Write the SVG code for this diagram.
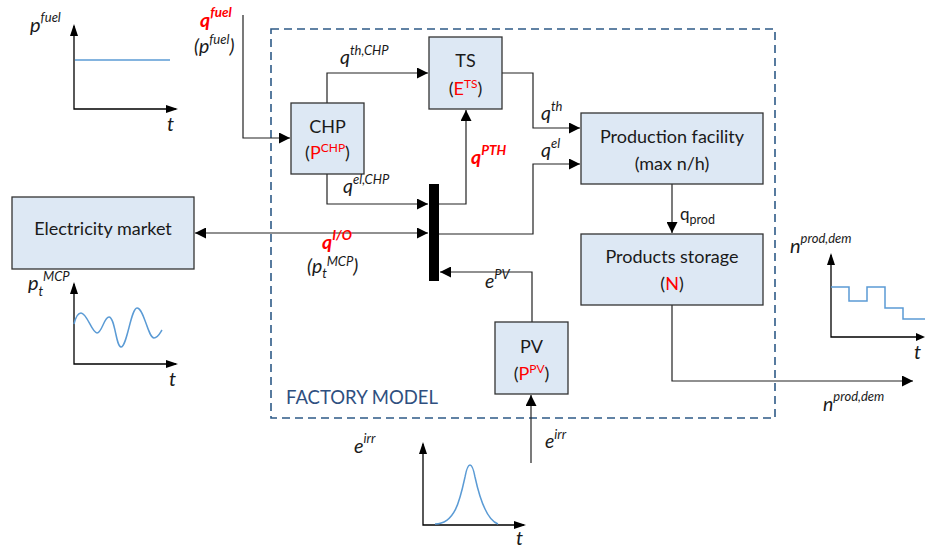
<svg xmlns="http://www.w3.org/2000/svg" width="925" height="549" viewBox="0 0 925 549">
<style>
text{font-family:Lato,"Liberation Sans",sans-serif;fill:#1a1a1a}
.box{fill:#dde8f4;stroke:#333;stroke-width:1.3}
.bt{font-size:18px;text-anchor:middle}
.red{fill:#ff0000}
.lbl{font-size:19.5px;font-style:italic}
.sup{font-size:13px}
.rb{fill:#ff0000;font-weight:bold;font-style:italic;font-size:19.5px}
.ln{fill:none;stroke:#222;stroke-width:1.2}
.ax{fill:none;stroke:#000;stroke-width:1.3}
.cv{fill:none;stroke:#5b9bd5;stroke-width:1.5}
</style>
<defs>
<marker id="ah" viewBox="0 0 10 10" refX="10" refY="5" markerWidth="13" markerHeight="11" orient="auto-start-reverse" markerUnits="userSpaceOnUse"><path d="M0,0 L10,5 L0,10 z" fill="#000"/></marker>
</defs>

<rect x="271" y="29" width="504" height="389" fill="none" stroke="#2e5a87" stroke-width="1.6" stroke-dasharray="8,5"/>
<text x="286" y="404" style="font-size:18.5px;fill:#2f4f7f">FACTORY MODEL</text>

<g id="connectors">
<polyline class="ln" points="243,15 243,138 290,138" marker-end="url(#ah)"/>
<polyline class="ln" points="327,103 327,73 428,73" marker-end="url(#ah)"/>
<polyline class="ln" points="502,73 533,73 533,128 580,128" marker-end="url(#ah)"/>
<polyline class="ln" points="439,234 533,234 533,164 580,164" marker-end="url(#ah)"/>
<polyline class="ln" points="327,174 327,204 428,204" marker-end="url(#ah)"/>
<polyline class="ln" points="439,204 466,204 466,110" marker-end="url(#ah)"/>
<line class="ln" x1="195" y1="233" x2="428" y2="233" marker-start="url(#ah)" marker-end="url(#ah)"/>
<polyline class="ln" points="532,322 532,272 440,272" marker-end="url(#ah)"/>
<line class="ln" x1="531" y1="463" x2="531" y2="395" stroke="#555" marker-end="url(#ah)"/>
<line class="ln" x1="672" y1="184" x2="672" y2="233" stroke="#555" marker-end="url(#ah)"/>
<polyline class="ln" points="672,305 672,381 913,381" stroke="#555" marker-end="url(#ah)"/>
</g>

<g id="bus"><rect x="429" y="184" width="10" height="97" fill="#000"/></g>

<g id="chp">
<rect class="box" x="291" y="103" width="73" height="71"/>
<text class="bt" x="327.5" y="133">CHP</text>
<text class="bt" x="327.5" y="159">(<tspan class="red">P</tspan><tspan class="red" font-size="12" dy="-7">CHP</tspan><tspan dy="7">)</tspan></text>
</g>
<g id="ts">
<rect class="box" x="429" y="37" width="73" height="72"/>
<text class="bt" x="465.5" y="67">TS</text>
<text class="bt" x="465.5" y="95">(<tspan class="red">E</tspan><tspan class="red" font-size="12" dy="-7">TS</tspan><tspan dy="7">)</tspan></text>
</g>
<g id="production">
<rect class="box" x="581" y="113" width="182" height="71"/>
<text class="bt" x="672" y="143">Production facility</text>
<text class="bt" x="672" y="170">(max n/h)</text>
</g>
<g id="storage">
<rect class="box" x="581" y="234" width="182" height="71"/>
<text class="bt" x="672" y="263">Products storage</text>
<text class="bt" x="672" y="290">(<tspan class="red">N</tspan>)</text>
</g>
<g id="market">
<rect class="box" x="12" y="197" width="182" height="72"/>
<text class="bt" x="103" y="235">Electricity market</text>
</g>
<g id="pv">
<rect class="box" x="495" y="322" width="73" height="72"/>
<text class="bt" x="531.5" y="353">PV</text>
<text class="bt" x="531.5" y="380">(<tspan class="red">P</tspan><tspan class="red" font-size="12" dy="-7">PV</tspan><tspan dy="7">)</tspan></text>
</g>

<g id="labels">
<text class="rb" x="200" y="27">q<tspan font-size="13.5" dy="-10">fuel</tspan></text>
<text class="lbl" x="194" y="53">(p<tspan class="sup" dy="-9">fuel</tspan><tspan dy="9">)</tspan></text>
<text class="lbl" x="340" y="64">q<tspan class="sup" dy="-9">th,CHP</tspan></text>
<text class="lbl" x="541" y="120">q<tspan class="sup" dy="-9">th</tspan></text>
<text class="lbl" x="541" y="157">q<tspan class="sup" dy="-9">el</tspan></text>
<text class="rb" x="471" y="164">q<tspan font-size="13.5" dy="-9">PTH</tspan></text>
<text class="lbl" x="343" y="193">q<tspan class="sup" dy="-9">el,CHP</tspan></text>
<text class="rb" x="322" y="249">q<tspan font-size="13.5" dy="-9">I/O</tspan></text>
<text class="lbl" x="307" y="273">(p<tspan class="sup" dy="5">t</tspan><tspan class="sup" dy="-12">MCP</tspan><tspan dy="7">)</tspan></text>
<text class="lbl" x="485" y="288">e<tspan class="sup" dy="-9">PV</tspan></text>
<text class="lbl" x="545" y="448">e<tspan class="sup" dy="-9">irr</tspan></text>
<text x="680" y="220" style="font-size:17px">q<tspan font-size="12.5" dy="4">prod</tspan></text>
<text class="lbl" x="823" y="411">n<tspan class="sup" dy="-10">prod,dem</tspan></text>
</g>

<g id="chart-fuel">
<polyline class="ax" points="74,26 74,109 176,109"/>
<path d="M74,24 L70,36 L78,36 z"/>
<path d="M178,109 L166,105 L166,113 z"/>
<line class="cv" x1="75" y1="60" x2="170" y2="60"/>
<text class="lbl" x="30" y="32" style="font-size:20px">p<tspan class="sup" dy="-10" style="font-size:13px">fuel</tspan></text>
<text class="lbl" x="167" y="131" style="font-size:20px">t</text>
</g>

<g id="chart-mcp">
<polyline class="ax" points="74,284 74,364 176,364"/>
<path d="M74,282 L70,294 L78,294 z"/>
<path d="M178,364 L166,360 L166,368 z"/>
<path class="cv" d="M74,324 C76,316 78,313 81,313 C87,313 92,333 97,333 C102,333 104,317 109,317 C115,317 116,347 121,347 C127,347 131,308 137,308 C144,308 148,338 154,338 C158,338 160,333 162,330"/>
<text class="lbl" x="28" y="290" style="font-size:20px">p<tspan class="sup" dy="6" style="font-size:13px">t</tspan><tspan class="sup" dy="-15" style="font-size:13px">MCP</tspan></text>
<text class="lbl" x="169" y="386" style="font-size:20px">t</text>
</g>

<g id="chart-irr">
<polyline class="ax" points="423,444 423,525 524,525"/>
<path d="M423,442 L419,454 L427,454 z"/>
<path d="M526,525 L514,521 L514,529 z"/>
<path class="cv" d="M435,524 C455,524 460,500 465,477 C468,461 472,461 475,477 C480,500 487,520 498,524"/>
<text class="lbl" x="354" y="453" style="font-size:20px">e<tspan class="sup" dy="-10" style="font-size:13px">irr</tspan></text>
<text class="lbl" x="516" y="545" style="font-size:20px">t</text>
</g>

<g id="chart-demand">
<polyline class="ax" points="831,255 831,337 920,337"/>
<path d="M831,253 L827,265 L835,265 z"/>
<path d="M925,337 L916,333 L916,341 z"/>
<polyline class="cv" points="831,287 849,287 849,301 867,301 867,287 885,287 885,308 903,308 903,319 925,319"/>
<text class="lbl" x="790" y="253" style="font-size:20px">n<tspan class="sup" dy="-10" style="font-size:13px">prod,dem</tspan></text>
<text class="lbl" x="914" y="359" style="font-size:20px">t</text>
</g>
</svg>
